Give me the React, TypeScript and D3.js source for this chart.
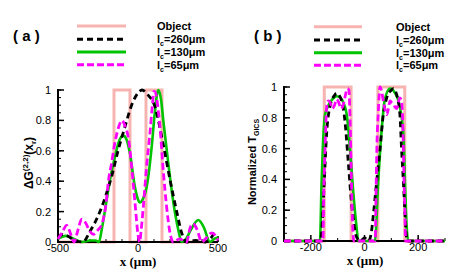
import React from "react";
import * as d3 from "d3";

// ---------- Data ----------
const seriesNames = ["Object", "260", "130", "65"];

// Panel (a): x in µm, ΔG values
const aObjX = [-500, -150, -150, -50, -50, 50, 50, 150, 150, 500];
const aObjY = [0, 0, 1, 1, 0, 0, 1, 1, 0, 0];

const aBlackX = [-500, -470, -440, -410, -380, -344, -300, -250, -200, -160, -125, -81, -40, 0, 25, 60, 106, 156, 200, 244, 273, 305, 360, 420, 450, 481, 500];
const aBlackY = [0.03, 0.05, 0.04, 0.02, 0.005, 0, 0.07, 0.17, 0.31, 0.45, 0.6, 0.76, 0.9, 0.98, 1.0, 0.97, 0.89, 0.65, 0.41, 0.19, 0.06, 0, 0.01, 0, 0.02, 0.06, 0.07];

const aGreenX = [-500, -450, -400, -350, -300, -265, -244, -227, -200, -175, -144, -120, -92, -70, -50, -19, 0, 12, 30, 54, 86, 105, 127, 145, 158, 189, 221, 252, 273, 300, 330, 377, 410, 450, 475, 500];
const aGreenY = [0.02, 0.04, 0.02, 0, 0.01, 0.01, 0, 0.08, 0.25, 0.41, 0.56, 0.66, 0.7, 0.67, 0.58, 0.36, 0.28, 0.26, 0.28, 0.36, 0.63, 0.85, 1.0, 0.93, 0.8, 0.52, 0.26, 0.08, 0, 0.02, 0.08, 0.145, 0.1, 0, 0.02, 0.03];

const aMagX = [-500, -475, -446, -420, -400, -375, -352, -330, -300, -279, -250, -225, -200, -185, -165, -150, -123, -100, -80, -61, -40, -19, 0, 10, 20, 33, 54, 75, 90, 100, 110, 125, 137, 158, 179, 200, 221, 260, 304, 325, 345, 370, 398, 430, 460, 485, 500];
const aMagY = [0.02, 0.06, 0.11, 0.05, 0, 0.08, 0.15, 0.13, 0.07, 0.05, 0.08, 0.12, 0.25, 0.4, 0.52, 0.62, 0.75, 0.8, 0.76, 0.69, 0.5, 0.26, 0.05, 0, 0.08, 0.23, 0.5, 0.72, 0.9, 0.99, 0.98, 0.88, 0.76, 0.47, 0.23, 0.06, 0, 0.02, 0, 0.09, 0.12, 0.08, 0, 0.03, 0.06, 0.04, 0.01];

// Panel (b): x in µm, normalized T_GICS
const bObjX = [-300, -150, -150, -50, -50, 50, 50, 150, 150, 300];
const bObjY = [0, 0, 1, 1, 0, 0, 1, 1, 0, 0];

const bBlackX = [-300, -165, -160, -150, -141, -129, -110, -105, -85, -73, -60, -48, -42, -35, -28, -15, 0, 15, 25, 33, 45, 58, 70, 83, 100, 107, 120, 132, 138, 145, 151, 157, 162, 300];
const bBlackY = [0, 0, 0.05, 0.38, 0.7, 0.87, 0.95, 0.96, 0.91, 0.78, 0.5, 0.24, 0.15, 0.06, 0.02, 0, 0.02, 0, 0.05, 0.17, 0.38, 0.6, 0.82, 0.93, 0.98, 0.99, 0.95, 0.82, 0.6, 0.38, 0.17, 0.02, 0, 0];

const bGreenX = [-300, -166, -160, -155, -147, -135, -120, -104, -90, -79, -66, -54, -42, -29, -23, 39, 51, 63, 76, 95, 114, 132, 145, 151, 157, 163, 300];
const bGreenY = [0, 0, 0.38, 0.62, 0.82, 0.88, 0.92, 0.94, 0.93, 0.9, 0.82, 0.6, 0.32, 0.08, 0, 0, 0.38, 0.7, 0.92, 0.99, 0.96, 0.87, 0.69, 0.38, 0.1, 0, 0];

const bMagX = [-300, -155, -152, -147, -141, -135, -128, -120, -112, -104, -96, -88, -80, -72, -64, -58, -54, -50, -46, -42, -40, 40, 43, 46, 51, 58, 64, 70, 77, 83, 89, 95, 101, 107, 114, 120, 126, 132, 138, 142, 145, 148, 151, 153, 300];
const bMagY = [0, 0, 0.3, 0.6, 0.87, 0.91, 0.9, 0.86, 0.88, 0.92, 0.9, 0.86, 0.88, 0.94, 0.99, 0.98, 0.8, 0.5, 0.2, 0.03, 0, 0, 0.3, 0.6, 0.82, 1.0, 0.97, 0.91, 0.85, 0.82, 0.86, 0.91, 0.9, 0.89, 0.87, 0.86, 0.9, 0.93, 0.91, 0.8, 0.6, 0.35, 0.17, 0, 0];

const yTicks = [0, 0.2, 0.4, 0.6, 0.8, 1];
const aXTicks = [-500, 0, 500];
const bXTicks = [-200, 0, 200];

// ---------- Styles ----------
const COL_OBJ = "#f7b3b0";
const COL_BLACK = "#000000";
const COL_GREEN = "#00c400";
const COL_MAG = "#ff00ff";
const SANS = "'Liberation Sans', Arial, Helvetica, sans-serif";
const SERIF = "'Liberation Serif', 'Times New Roman', serif";

type Pt = [number, number];
const zip = (xs: number[], ys: number[]): Pt[] => xs.map((x, i) => [x, ys[i]]);

interface PanelProps {
  left: number; right: number; top: number; bottom: number;
  xDomain: [number, number];
  xTicks: number[];
  xMinorStep: number;
  obj: Pt[]; black: Pt[]; green: Pt[]; mag: Pt[];
}

function Panel(p: PanelProps) {
  const x = d3.scaleLinear().domain(p.xDomain).range([p.left, p.right]);
  const y = d3.scaleLinear().domain([0, 1]).range([p.bottom, p.top]);
  const lin = d3.line<Pt>().x(d => x(d[0])).y(d => y(d[1]));
  const smooth = d3.line<Pt>().x(d => x(d[0])).y(d => y(d[1])).curve(d3.curveMonotoneX);
  const yMinor = d3.range(0, 1.0001, 0.05);
  const xMinor = d3.range(p.xDomain[0], p.xDomain[1] + 0.001, p.xMinorStep);
  return (
    <g>
      <path d={lin(p.obj) || ""} fill="none" stroke={COL_OBJ} strokeWidth={3} />
      {/* axes */}
      <line x1={p.left} x2={p.left} y1={p.top - 1} y2={p.bottom + 1} stroke="#000" strokeWidth={2} />
      <line x1={p.left - 1} x2={p.right} y1={p.bottom} y2={p.bottom} stroke="#000" strokeWidth={2} />
      {yMinor.map((v, i) => (
        <line key={"ym" + i} x1={p.left} x2={p.left + 3} y1={y(v)} y2={y(v)} stroke="#000" strokeWidth={1} />
      ))}
      {yTicks.map((v, i) => (
        <g key={"yt" + i}>
          <line x1={p.left} x2={p.left + 6} y1={y(v)} y2={y(v)} stroke="#000" strokeWidth={1.5} />
          <text x={p.left - 7} y={y(v) + 4} textAnchor="end" fontFamily={SANS} fontSize={11}>{d3.format("~g")(v)}</text>
        </g>
      ))}
      {xMinor.map((v, i) => (
        <line key={"xm" + i} x1={x(v)} x2={x(v)} y1={p.bottom} y2={p.bottom - 3} stroke="#000" strokeWidth={1} />
      ))}
      {p.xTicks.map((v, i) => (
        <g key={"xt" + i}>
          <line x1={x(v)} x2={x(v)} y1={p.bottom} y2={p.bottom - 6} stroke="#000" strokeWidth={1.5} />
          <text x={x(v)} y={p.bottom + 10} textAnchor="middle" fontFamily={SANS} fontSize={11}>{String(v)}</text>
        </g>
      ))}
      {/* curves */}
      <path d={smooth(p.green) || ""} fill="none" stroke={COL_GREEN} strokeWidth={2.6} />
      <path d={smooth(p.black) || ""} fill="none" stroke={COL_BLACK} strokeWidth={2.8} strokeDasharray="6,4" />
      <path d={smooth(p.mag) || ""} fill="none" stroke={COL_MAG} strokeWidth={2.8} strokeDasharray="7,3.5" />
    </g>
  );
}

function Legend({ x1, x2, tx, rows }: { x1: number; x2: number; tx: number; rows: number[] }) {
  const styles = [
    { c: COL_OBJ, d: undefined },
    { c: COL_BLACK, d: "6,4" },
    { c: COL_GREEN, d: undefined },
    { c: COL_MAG, d: "7,3" },
  ];
  return (
    <g>
      {seriesNames.map((n, i) => (
        <g key={i}>
          <line x1={x1} x2={x2} y1={rows[i]} y2={rows[i]} stroke={styles[i].c} strokeWidth={3} strokeDasharray={styles[i].d} />
          <text x={tx} y={rows[i] + 4} fontFamily={SANS} fontSize={11} fontWeight="bold">
            {i === 0 ? n : (
              <>
                {"l"}
                <tspan fontSize={7} dy={3}>c</tspan>
                <tspan dy={-3}>{"=" + n + "\u03bcm"}</tspan>
              </>
            )}
          </text>
        </g>
      ))}
    </g>
  );
}

export default function App() {
  return (
    <svg width={463} height={272} style={{ position: "absolute", left: 0, top: 0, background: "#fff" }}>
      <rect width={463} height={272} fill="#fff" />
      {/* Panel (a) */}
      <text x={13} y={41} fontFamily={SANS} fontSize={15} fontWeight="bold">( a )</text>
      <Legend x1={77} x2={126} tx={157} rows={[26, 39.3, 52, 64.7]} />
      <Panel left={58} right={218} top={90} bottom={242} xDomain={[-500, 500]} xTicks={aXTicks} xMinorStep={100}
        obj={zip(aObjX, aObjY)} black={zip(aBlackX, aBlackY)} green={zip(aGreenX, aGreenY)} mag={zip(aMagX, aMagY)} />
      <text transform="translate(33,163) rotate(-90)" textAnchor="middle" fontFamily={SANS} fontSize={12} fontWeight="bold">
        {"\u0394G"}<tspan fontSize={8} dy={-5}>(2,2)</tspan><tspan dy={5}>(x</tspan><tspan fontSize={8} dy={3}>r</tspan><tspan dy={-3}>)</tspan>
      </text>
      <text x={138} y={266} textAnchor="middle" fontFamily={SERIF} fontSize={13} fontWeight="bold">{"x (\u03bcm)"}</text>

      {/* Panel (b) */}
      <text x={254} y={41} fontFamily={SANS} fontSize={15} fontWeight="bold">( b )</text>
      <Legend x1={314} x2={362} tx={396} rows={[26.7, 40, 52.7, 65.3]} />
      <Panel left={284} right={445} top={87} bottom={241} xDomain={[-300, 300]} xTicks={bXTicks} xMinorStep={100}
        obj={zip(bObjX, bObjY)} black={zip(bBlackX, bBlackY)} green={zip(bGreenX, bGreenY)} mag={zip(bMagX, bMagY)} />
      <text transform="translate(256,162) rotate(-90)" textAnchor="middle" fontFamily={SANS} fontSize={11} fontWeight="bold">
        {"Normalized T"}<tspan fontSize={7} dy={3}>GICS</tspan>
      </text>
      <text x={365} y={265} textAnchor="middle" fontFamily={SERIF} fontSize={13} fontWeight="bold">{"x (\u03bcm)"}</text>
    </svg>
  );
}
